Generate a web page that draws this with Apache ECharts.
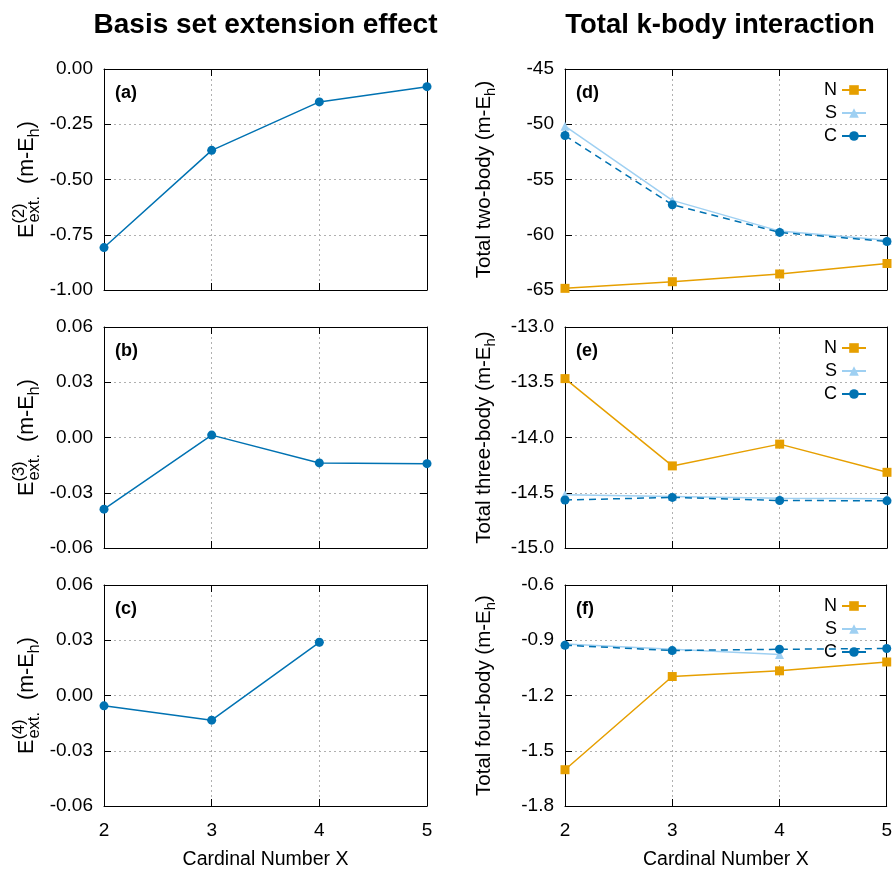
<!DOCTYPE html>
<html><head><meta charset="utf-8">
<script src="https://cdn.jsdelivr.net/npm/echarts@6/dist/echarts.min.js"></script>
<style>html,body{margin:0;padding:0;background:#fff}#c{width:895px;height:871px}</style>
</head><body><div id="c"></div>
<script>
// ---- data ----
const X = [2, 3, 4, 5];
const xTicks = ['2', '3', '4', '5'];
const extE2 = [-0.808, -0.368, -0.149, -0.080];
const extE3 = [-0.0389, 0.0013, -0.0138, -0.0142];
const extE4 = [-0.0056, -0.0134, 0.0289, null];
const twoN = [-64.85, -64.25, -63.55, -62.6];
const twoS = [-50.17, -56.89, -59.67, -60.5];
const twoC = [-51.02, -57.28, -59.79, -60.61];
const threeN = [-13.467, -14.257, -14.06, -14.315];
const threeS = [-14.518, -14.535, -14.55, -14.555];
const threeC = [-14.566, -14.542, -14.57, -14.573];
const fourN = [-1.603, -1.097, -1.066, -1.018];
const fourS = [-0.92, -0.949, -0.978, null];
const fourC = [-0.927, -0.956, -0.949, -0.945];
const ticksA = ['-1.00', '-0.75', '-0.50', '-0.25', '0.00'];
const ticksB = ['-0.06', '-0.03', '0.00', '0.03', '0.06'];
const ticksC = ['-0.06', '-0.03', '0.00', '0.03', '0.06'];
const ticksD = ['-65', '-60', '-55', '-50', '-45'];
const ticksE = ['-15.0', '-14.5', '-14.0', '-13.5', '-13.0'];
const ticksF = ['-1.8', '-1.5', '-1.2', '-0.9', '-0.6'];
const seriesNames = ['N', 'S', 'C'];
const titles = ['Basis set extension effect', 'Total k-body interaction'];
const panelLabels = ['(a)', '(b)', '(c)', '(d)', '(e)', '(f)'];
const yNames = [
  '{n|E}{sup|(2)}{sub|ext.}{n|  (m-E}{sub|h}{n|)}',
  '{n|E}{sup|(3)}{sub|ext.}{n|  (m-E}{sub|h}{n|)}',
  '{n|E}{sup|(4)}{sub|ext.}{n|  (m-E}{sub|h}{n|)}',
  '{n|Total two-body (m-E}{sub|h}{n|)}',
  '{n|Total three-body (m-E}{sub|h}{n|)}',
  '{n|Total four-body (m-E}{sub|h}{n|)}'
];
const xName = 'Cardinal Number X';

// ---- styling / layout ----
const FONT = "'Liberation Sans', Arial, Helvetica, sans-serif";
const BLUE = '#0072B2', ORANGE = '#E69F00', SKY = '#9FD0F2';
const L = {left: 104, width: 323}, R = {left: 565, width: 322};
const tops = [69, 327, 585];
const H = 221;
const panelTicks = [ticksA, ticksB, ticksC, ticksD, ticksE, ticksF];

const grid = [], xAxis = [], yAxis = [], graphic = [];
const richLeft = {
  n: {fontSize: 21.5, fontFamily: FONT, color: '#000', lineHeight: 32, align: 'left'},
  sup: {fontSize: 16.5, fontFamily: FONT, color: '#000', verticalAlign: 'top', align: 'left', width: 1},
  sub: {fontSize: 16.5, fontFamily: FONT, color: '#000', verticalAlign: 'bottom', align: 'left'}
};
const richRight = {
  n: {fontSize: 20.5, fontFamily: FONT, color: '#000', lineHeight: 28, align: 'left'},
  sub: {fontSize: 15, fontFamily: FONT, color: '#000', verticalAlign: 'bottom', align: 'left'}
};
for (let i = 0; i < 6; i++) {
  const col = i < 3 ? L : R;
  const top = tops[i % 3];
  grid.push({left: col.left, top: top, width: col.width, height: H, containLabel: false});
  const bottomRow = (i % 3) === 2;
  const tk = panelTicks[i];
  const mn = parseFloat(tk[0]), mx = parseFloat(tk[tk.length - 1]);
  const step = parseFloat(tk[1]) - parseFloat(tk[0]);
  const fmt = (v) => {
    let best = 0, bd = Infinity;
    tk.forEach((t, k) => { const d = Math.abs(parseFloat(t) - v); if (d < bd) { bd = d; best = k; } });
    return tk[best];
  };
  const axisLine = {show: true, onZero: false, lineStyle: {color: '#000', width: 1}};
  const axisTick = {show: true, inside: true, length: 7, lineStyle: {color: '#000', width: 1}};
  const split = {show: true, lineStyle: {color: '#b0b0b0', type: [2, 3], width: 1}};
  xAxis.push({
    type: 'value', gridIndex: i, min: X[0], max: X[X.length - 1], interval: 1, position: 'bottom',
    axisLine, axisTick, splitLine: split,
    axisLabel: {show: bottomRow, margin: 15, fontSize: 19, fontFamily: FONT, color: '#000',
      formatter: (v) => xTicks[X.indexOf(v)] || ''},
    name: bottomRow ? xName : '', nameLocation: 'middle', nameGap: 44,
    nameTextStyle: {fontSize: 19.5, fontFamily: FONT, color: '#000'}
  });
  xAxis.push({
    type: 'value', gridIndex: i, min: X[0], max: X[X.length - 1], interval: 1, position: 'top',
    axisLine, axisTick, splitLine: {show: false}, axisLabel: {show: false}
  });
  yAxis.push({
    type: 'value', gridIndex: i, min: mn, max: mx, interval: step, position: 'left',
    axisLine, axisTick, splitLine: split,
    axisLabel: {margin: 11, fontSize: 19, fontFamily: FONT, color: '#000', formatter: fmt},
    name: yNames[i], nameLocation: 'middle', nameRotate: 90, nameGap: i < 3 ? 61 : 67,
    nameTextStyle: {rich: i < 3 ? richLeft : richRight}
  });
  yAxis.push({
    type: 'value', gridIndex: i, min: mn, max: mx, interval: step, position: 'right',
    axisLine, axisTick, splitLine: {show: false}, axisLabel: {show: false}
  });
  graphic.push({
    type: 'text', x: col.left + 11, y: top + 24,
    style: {text: panelLabels[i], font: 'bold 18px ' + FONT, fill: '#000',
      align: 'left', verticalAlign: 'middle', textAlign: 'left', textVerticalAlign: 'middle'}
  });
}
graphic.push({type: 'text', x: L.left + L.width / 2, y: 25,
  style: {text: titles[0], font: 'bold 28px ' + FONT, fill: '#000', align: 'center', verticalAlign: 'middle', textAlign: 'center', textVerticalAlign: 'middle'}});
graphic.push({type: 'text', x: 720, y: 25,
  style: {text: titles[1], font: 'bold 27.5px ' + FONT, fill: '#000', align: 'center', verticalAlign: 'middle', textAlign: 'center', textVerticalAlign: 'middle'}});

const pts = (arr) => X.map((x, k) => [x, arr[k]]).filter(p => p[1] !== null);
const series = [];
function addLine(name, data, gi, color, symbol, size, dashed) {
  series.push({
    type: 'line', name: name, xAxisIndex: 2 * gi, yAxisIndex: 2 * gi, data: pts(data),
    symbol: symbol, symbolSize: size, showSymbol: true, animation: false,
    lineStyle: {color: color, width: 1.5, type: dashed ? [7, 5] : 'solid'},
    itemStyle: {color: color}, emphasis: {disabled: true}
  });
}
addLine('E2', extE2, 0, BLUE, 'circle', 9, false);
addLine('E3', extE3, 1, BLUE, 'circle', 9, false);
addLine('E4', extE4, 2, BLUE, 'circle', 9, false);
const rightSets = [[twoN, twoS, twoC], [threeN, threeS, threeC], [fourN, fourS, fourC]];
rightSets.forEach((set, j) => {
  addLine('N', set[0], 3 + j, ORANGE, 'rect', 9, false);
  addLine('S', set[1], 3 + j, SKY, 'triangle', 9, false);
  addLine('C', set[2], 3 + j, BLUE, 'circle', 9, true);
});

const legend = tops.map(t => ({
  data: seriesNames, orient: 'vertical', align: 'right', right: 28, top: t + 12,
  padding: 0, itemGap: 5, itemWidth: 24, itemHeight: 12, selectedMode: false,
  textStyle: {fontSize: 18, fontFamily: FONT, color: '#000'},
  lineStyle: {type: 'solid'}
}));

const chart = echarts.init(document.getElementById('c'), null, {renderer: 'canvas'});
chart.setOption({
  backgroundColor: '#fff', animation: false,
  grid, xAxis, yAxis, series, legend, graphic
});
</script></body></html>
